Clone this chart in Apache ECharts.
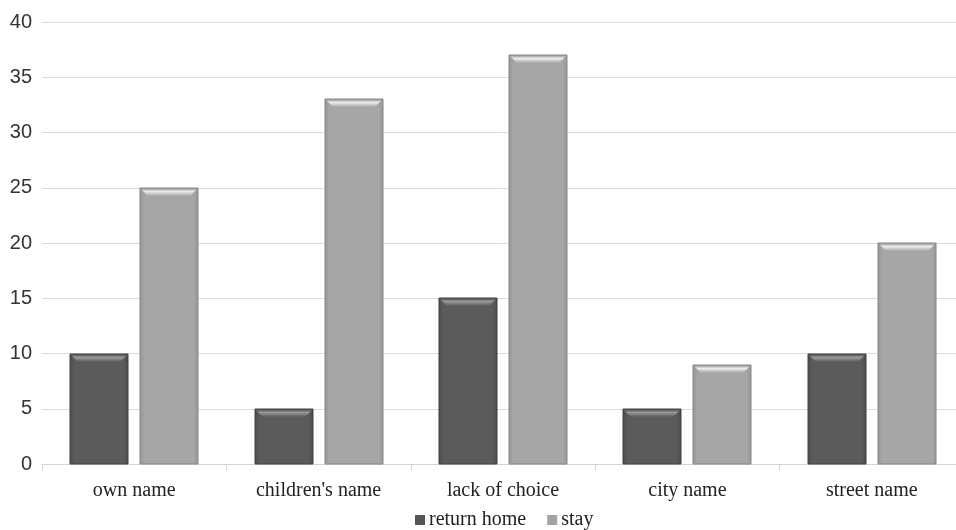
<!DOCTYPE html>
<html>
<head>
<meta charset="utf-8">
<script src="https://cdn.jsdelivr.net/npm/echarts@6/dist/echarts.min.js"></script>
<style>
  html, body { margin: 0; padding: 0; background: #ffffff; }
  #chart { width: 956px; height: 530px; }
</style>
</head>
<body>
<div id="chart"></div>
<script>
// Reasons for naming, grouped by whether people returned home or stayed
const categories = ['own name', "children's name", 'lack of choice', 'city name', 'street name'];
const returnHome = [10, 5, 15, 5, 10];
const stay = [25, 33, 37, 9, 20];
const seriesNames = ['return home', 'stay'];

// Bevelled bar look: base tone, edge tone, highlight and border per series
const palettes = [
  { mid: '#5b5b5b', edge: '#4b4b4b', light: '#9a9a9a', border: '#404040' },
  { mid: '#a6a6a6', edge: '#959595', light: '#ececec', border: '#868686' }
];
const BAR_W = 58;
const BAR_GAP = 12;
const BEVEL = 8;

function makeRenderer(seriesIdx) {
  const pal = palettes[seriesIdx];
  const shift = (seriesIdx === 0 ? -1 : 1) * (BAR_W + BAR_GAP) / 2;
  return function (params, api) {
    const cat = api.value(0);
    const top = api.coord([cat, api.value(1)]);
    const base = api.coord([cat, 0]);
    const x0 = Math.round(top[0] + shift - BAR_W / 2);
    const x1 = x0 + BAR_W;
    const y0 = Math.round(top[1]);
    const y1 = Math.round(base[1]);
    const h = y1 - y0;
    const b = Math.min(BEVEL, h / 2);
    return {
      type: 'group',
      children: [
        {
          type: 'rect',
          shape: { x: x0, y: y0, width: BAR_W, height: h },
          style: {
            fill: {
              type: 'linear', x: 0, y: 0, x2: 1, y2: 0,
              colorStops: [
                { offset: 0, color: pal.edge },
                { offset: 0.08, color: pal.mid },
                { offset: 0.92, color: pal.mid },
                { offset: 1, color: pal.edge }
              ]
            },
            stroke: pal.border,
            lineWidth: 1
          }
        },
        {
          type: 'polygon',
          shape: { points: [[x0 + 1, y0 + 1], [x1 - 1, y0 + 1], [x1 - b, y0 + b], [x0 + b, y0 + b]] },
          style: {
            fill: {
              type: 'linear', x: 0, y: 0, x2: 0, y2: 1,
              colorStops: [
                { offset: 0, color: pal.mid },
                { offset: 0.35, color: pal.light },
                { offset: 1, color: pal.mid }
              ]
            }
          }
        }
      ]
    };
  };
}

function toPairs(values) {
  return values.map((v, i) => [i, v]);
}

const chart = echarts.init(document.getElementById('chart'));
chart.setOption({
  animation: false,
  backgroundColor: '#ffffff',
  grid: { left: 42, top: 22, width: 922, height: 442, containLabel: false, outerBoundsMode: 'none' },
  legend: {
    bottom: -5,
    left: 410,
    itemWidth: 10,
    itemHeight: 10,
    itemGap: 21,
    icon: 'rect',
    textStyle: { fontFamily: 'Liberation Serif', fontSize: 20, color: '#222', padding: [0, 0, 0, -1] },
    data: seriesNames
  },
  xAxis: {
    type: 'category',
    data: categories,
    axisLine: { lineStyle: { color: '#d4d4d4', width: 1 } },
    axisTick: { show: true, length: 6, lineStyle: { color: '#d4d4d4' } },
    axisLabel: { fontFamily: 'Liberation Serif', fontSize: 20, color: '#222', margin: 17 }
  },
  yAxis: {
    type: 'value',
    min: 0, max: 40, interval: 5,
    axisLine: { show: false },
    axisTick: { show: false },
    splitLine: { lineStyle: { color: '#dcdcdc', width: 1 } },
    axisLabel: { fontFamily: 'Liberation Sans', fontSize: 20, color: '#333', margin: 10 }
  },
  series: [
    {
      name: seriesNames[0],
      type: 'custom',
      renderItem: makeRenderer(0),
      encode: { x: 0, y: 1 },
      itemStyle: { color: '#555555' },
      data: toPairs(returnHome)
    },
    {
      name: seriesNames[1],
      type: 'custom',
      renderItem: makeRenderer(1),
      encode: { x: 0, y: 1 },
      itemStyle: { color: '#a3a3a3' },
      data: toPairs(stay)
    }
  ]
});
</script>
</body>
</html>
